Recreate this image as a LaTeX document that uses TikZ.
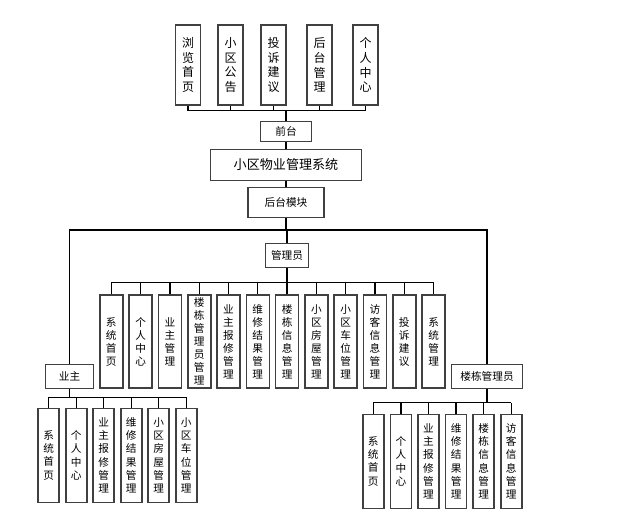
\documentclass[tikz,border=0pt]{standalone}
\usepackage{fontspec}
\setmainfont{Noto Sans CJK SC}
\begin{document}
\begin{tikzpicture}[x=0.75pt,y=-0.75pt,
 box/.style={draw=black!75, line width=1.2pt, fill=white, inner sep=0pt, align=center},
 vtop/.style={box, minimum width=18.75pt, minimum height=60pt, font=\fontsize{9}{11}\selectfont},
 vmid/.style={box, minimum width=17.25pt, minimum height=69.75pt, font=\fontsize{8}{9.75}\selectfont},
 vbot/.style={box, minimum width=15.75pt, minimum height=70.5pt, font=\fontsize{8}{10}\selectfont},
 hbox/.style={box, font=\fontsize{8}{10}\selectfont},
 conn/.style={draw=black, line width=1pt}]
\useasboundingbox (0,0) rectangle (628,524);
% top row
\node[vtop] (t1) at (188,65) {浏\\览\\首\\页};
\node[vtop] (t2) at (230.5,65) {小\\区\\公\\告};
\node[vtop] (t3) at (273.5,65) {投\\诉\\建\\议};
\node[vtop] (t4) at (319.5,65) {后\\台\\管\\理};
\node[vtop] (t5) at (365.5,65) {个\\人\\中\\心};
\node[hbox, minimum width=38.25pt, minimum height=15pt] (qt) at (286,131.7) {前台};
\node[box, minimum width=113.25pt, minimum height=23.25pt, font=\fontsize{9.8}{11}\selectfont] (sys) at (286,165) {小区物业管理系统};
\node[hbox, minimum width=57pt, minimum height=22.5pt] (hm) at (286,202.5) {后台模块};
\node[hbox, minimum width=32.25pt, minimum height=18pt] (gly) at (287,255.3) {管理员};
\node[hbox, minimum width=36pt, minimum height=18pt] (yz) at (69.5,376.3) {业主};
\node[hbox, minimum width=53.25pt, minimum height=18pt] (ldg) at (487,376.3) {楼栋管理员};
% middle row
\foreach \t [count=\i from 0] in {
 {系\\统\\首\\页},{个\\人\\中\\心},{业\\主\\管\\理},{楼\\栋\\管\\理\\员\\管\\理},
 {业\\主\\报\\修\\管\\理},{维\\修\\结\\果\\管\\理},{楼\\栋\\信\\息\\管\\理},{小\\区\\房\\屋\\管\\理},
 {小\\区\\车\\位\\管\\理},{访\\客\\信\\息\\管\\理},{投\\诉\\建\\议},{系\\统\\管\\理}}
 \node[vmid] (m\i) at (111.3+29.3*\i,341.5) {\t};
% bottom left
\foreach \t [count=\i from 0] in {
 {系\\统\\首\\页},{个\\人\\中\\心},{业\\主\\报\\修\\管\\理},{维\\修\\结\\果\\管\\理},
 {小\\区\\房\\屋\\管\\理},{小\\区\\车\\位\\管\\理}}
 \node[vbot] (l\i) at (48.7+27.5*\i,455.3) {\t};
% bottom right
\foreach \t [count=\i from 0] in {
 {系\\统\\首\\页},{个\\人\\中\\心},{业\\主\\报\\修\\管\\理},{维\\修\\结\\果\\管\\理},
 {楼\\栋\\信\\息\\管\\理},{访\\客\\信\\息\\管\\理}}
 \node[vbot] (r\i) at (373.3+27.6*\i,461.3) {\t};
% bus coordinates
\coordinate (tb) at (0,110.7);
\coordinate (hb) at (0,230);
\coordinate (mb) at (0,282.3);
\coordinate (lb) at (0,397.3);
\coordinate (rb) at (0,402.7);
% connectors top
\foreach \n in {t1,t2,t3,t4,t5} \draw[conn] (\n.south) -- (\n.south |- tb);
\draw[conn] (t1.south |- tb) -- (t5.south |- tb);
\draw[conn] (qt.north) -- (qt.north |- tb);
\draw[conn] (qt) -- (sys);
\draw[conn] (sys) -- (hm);
\draw[conn] (hm.south) -- (hm.south |- hb);
\draw[conn] (yz.north) -- (yz.north |- hb) -- (ldg.north |- hb) -- (ldg.north);
\draw[conn] (gly.north) -- (gly.north |- hb);
% middle
\draw[conn] (gly.south) -- (gly.south |- mb);
\foreach \i in {0,...,11} \draw[conn] (m\i.north) -- (m\i.north |- mb);
\draw[conn] (m0.north |- mb) -- (m11.north |- mb);
% left
\draw[conn] (yz.south) -- (yz.south |- lb);
\foreach \i in {0,...,5} \draw[conn] (l\i.north) -- (l\i.north |- lb);
\draw[conn] (l0.north |- lb) -- (l5.north |- lb);
% right
\draw[conn] (ldg.south) -- (ldg.south |- rb);
\foreach \i in {0,...,5} \draw[conn] (r\i.north) -- (r\i.north |- rb);
\draw[conn] (r0.north |- rb) -- (r5.north |- rb);
\end{tikzpicture}
\end{document}
